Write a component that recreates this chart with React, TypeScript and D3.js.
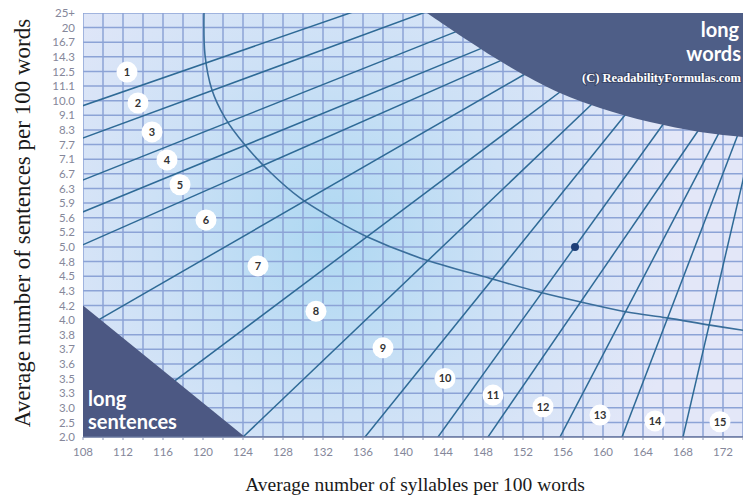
import * as d3 from "d3";

// Fry readability graph (ReadabilityFormulas.com version)

const xTicks = d3.range(108, 173, 4);
const xGrid = d3.range(108, 175, 2);

const yLabels = ["25+", "20", "16.7", "14.3", "12.5", "11.1", "10.0", "9.1", "8.3", "7.7", "7.1", "6.7", "6.3", "5.9", "5.6", "5.2", "5.0", "4.8", "4.5", "4.3", "4.2", "4.0", "3.8", "3.7", "3.6", "3.5", "3.3", "3.0", "2.5", "2.0"];
const yValues = [25, 20, 16.7, 14.3, 12.5, 11.1, 10.0, 9.1, 8.3, 7.7, 7.1, 6.7, 6.3, 5.9, 5.6, 5.2, 5.0, 4.8, 4.5, 4.3, 4.2, 4.0, 3.8, 3.7, 3.6, 3.5, 3.3, 3.0, 2.5, 2.0];

// grade boundary lines: [syllables, sentences] -> [syllables, sentences]
const gradeLines: [number, number, number, number][] = [
  [108, 9.7, 134.7, 25],
  [108, 7.97, 142, 25],
  [108, 6.53, 145.2, 19.0],
  [108, 5.72, 147.7, 15.6],
  [108, 5.03, 149.7, 13.8],
  [109.9, 4.03, 152.2, 12.26],
  [117.5, 3.5, 155.7, 10.66],
  [124, 2.0, 159.0, 9.86],
  [136.2, 2.0, 162.2, 9.12],
  [143.5, 2.0, 166.1, 8.68],
  [148.5, 2.0, 169.5, 8.26],
  [155.7, 2.0, 171.5, 8.1],
  [161.9, 2.0, 173.4, 8.01],
  [168, 2.0, 174, 6.53],
];

// grade number markers
const grades = [
  { g: 1, s: 112.4, v: 12.44 },
  { g: 2, s: 113.5, v: 9.86 },
  { g: 3, s: 114.9, v: 8.22 },
  { g: 4, s: 116.4, v: 7.08 },
  { g: 5, s: 117.7, v: 6.4 },
  { g: 6, s: 120.3, v: 5.54 },
  { g: 7, s: 125.5, v: 4.71 },
  { g: 8, s: 131.3, v: 4.12 },
  { g: 9, s: 138, v: 3.71 },
  { g: 10, s: 144.2, v: 3.5 },
  { g: 11, s: 149, v: 3.26 },
  { g: 12, s: 154, v: 3.02 },
  { g: 13, s: 159.7, v: 2.75 },
  { g: 14, s: 165.2, v: 2.55 },
  { g: 15, s: 171.7, v: 2.52 },
];

const arcCurve: [number, number][] = [
  [120.1, 25], [120.2, 14.6], [120.9, 10.8], [122.2, 8.96], [124.2, 7.68],
  [126.7, 6.75], [129.7, 6.04], [133.2, 5.54], [136.4, 5.14], [141.7, 4.85],
  [148.7, 4.47], [153.7, 4.29], [158, 4.22], [162.4, 4.11], [166.4, 4.03],
  [170.7, 3.93], [174, 3.86],
];

const longWordsEdge: [number, number][] = [
  [142.4, 25], [146.4, 17.2], [150.7, 13.06], [155.7, 10.58], [159.7, 9.55],
  [164.7, 8.73], [169.7, 8.22], [174, 8.01], [176, 7.9],
];

const longSentences: [number, number][] = [[108, 4.2], [108, 2.0], [124.2, 2.0]];

const samplePoint = { s: 157.2, v: 5.0 };

const width = 743;
const height = 497;
const left = 83;
const right = 743;
const top = 13;
const bottom = 437;

export default function App() {
  const x = d3.scaleLinear([108, 174], [left, right]);
  const y = d3
    .scaleLinear()
    .domain(yValues)
    .range(yValues.map((_, i) => top + (i * (bottom - top)) / (yValues.length - 1)));

  const smooth = d3
    .line<[number, number]>()
    .x((d) => x(d[0]))
    .y((d) => y(d[1]))
    .curve(d3.curveCatmullRom);

  const wordsPath =
    smooth(longWordsEdge) + `L${x(176)},${y(25) - 5}L${x(142.4)},${y(25) - 5}Z`;
  const sentPath = d3.line<[number, number]>().x((d) => x(d[0])).y((d) => y(d[1]))(longSentences) + "Z";

  // push line ends a little under the shaded regions
  const seg = (l: [number, number, number, number]) => {
    const x1 = x(l[0]), y1 = y(l[1]), x2 = x(l[2]), y2 = y(l[3]);
    const len = Math.hypot(x2 - x1, y2 - y1);
    const ux = (x2 - x1) / len, uy = (y2 - y1) / len;
    return { x1: x1 - ux * 12, y1: y1 - uy * 12, x2: x2 + ux * 12, y2: y2 + uy * 12 };
  };

  return (
    <svg width={width} height={height} style={{ position: "absolute", left: 0, top: 0, background: "#fff" }}>
      <defs>
        <radialGradient id="bg" gradientUnits="userSpaceOnUse" cx={330} cy={235} r={360}>
          <stop offset="0" stopColor="#aed8f2" />
          <stop offset="0.5" stopColor="#cde1f6" />
          <stop offset="1" stopColor="#e3e7f8" />
        </radialGradient>
        <clipPath id="plot">
          <rect x={left} y={top} width={right - left} height={bottom - top} />
        </clipPath>
      </defs>

      <rect x={left} y={top} width={right - left} height={bottom - top} fill="url(#bg)" />

      <g clipPath="url(#plot)">
        <g stroke="#8ca3d6" strokeWidth={1.5}>
          {xGrid.map((t) => (
            <line key={"vx" + t} x1={x(t)} x2={x(t)} y1={top} y2={bottom} />
          ))}
          {yValues.map((v) => (
            <line key={"hy" + v} x1={left} x2={right} y1={y(v)} y2={y(v)} />
          ))}
        </g>

        <path d={smooth(arcCurve) as string} fill="none" stroke="#3a6e9b" strokeWidth={1.6} />

        <g stroke="#2e6a96" strokeWidth={1.5}>
          {gradeLines.map((l, i) => (
            <line key={i} {...seg(l)} />
          ))}
        </g>

        <path d={wordsPath} fill="#4e5e87" />
        <path d={sentPath} fill="#4c5883" />
      </g>

      {/* frame */}
      <line x1={left} x2={right} y1={bottom} y2={bottom} stroke="#66749c" strokeWidth={1.6} />
      <g stroke="#8a96b8" strokeWidth={1}>
        {xGrid.map((t) => (
          <line key={"tk" + t} x1={x(t)} x2={x(t)} y1={bottom} y2={bottom + 3} />
        ))}
      </g>

      {/* region labels */}
      <g fill="#fff" fontFamily="Lato" fontWeight={700} fontSize={20}>
        <text x={88} y={406}>long</text>
        <text x={88} y={429}>sentences</text>
        <text x={739} y={37} textAnchor="end">long</text>
        <text x={741} y={61} textAnchor="end">words</text>
      </g>
      <text
        x={741}
        y={82}
        textAnchor="end"
        fontFamily="Liberation Serif"
        fontWeight={700}
        fontSize={12.5}
        fill="#fff"
        stroke="#3a4668"
        strokeWidth={2}
        paintOrder="stroke"
      >
        (C) ReadabilityFormulas.com
      </text>

      {/* grade markers */}
      {grades.map((d) => (
        <g key={d.g} transform={`translate(${x(d.s)},${y(d.v)})`}>
          <circle r={10.5} fill="#fff" />
          <text textAnchor="middle" dy="0.36em" fontFamily="Lato" fontWeight={700} fontSize={11} fill="#333">
            {d.g}
          </text>
        </g>
      ))}

      <circle cx={x(samplePoint.s)} cy={y(samplePoint.v)} r={4} fill="#1f3f78" />

      {/* tick labels */}
      <g fontFamily="Lato" fontSize={11.5} fill="#85879a">
        {xTicks.map((t) => (
          <text key={"xl" + t} x={x(t)} y={456} textAnchor="middle">
            {t}
          </text>
        ))}
        {yLabels.map((l, i) => (
          <text key={"yl" + l} x={75} y={y(yValues[i])} dy="0.36em" textAnchor="end">
            {l}
          </text>
        ))}
      </g>

      {/* axis titles */}
      <text x={415} y={491} textAnchor="middle" fontFamily="Liberation Serif" fontSize={19.5} fill="#1a1a1a">
        Average number of syllables per 100 words
      </text>
      <text
        transform="translate(30,223) rotate(-90)"
        textAnchor="middle"
        fontFamily="Liberation Serif"
        fontSize={23}
        fill="#1a1a1a"
      >
        Average number of sentences per 100 words
      </text>
    </svg>
  );
}
